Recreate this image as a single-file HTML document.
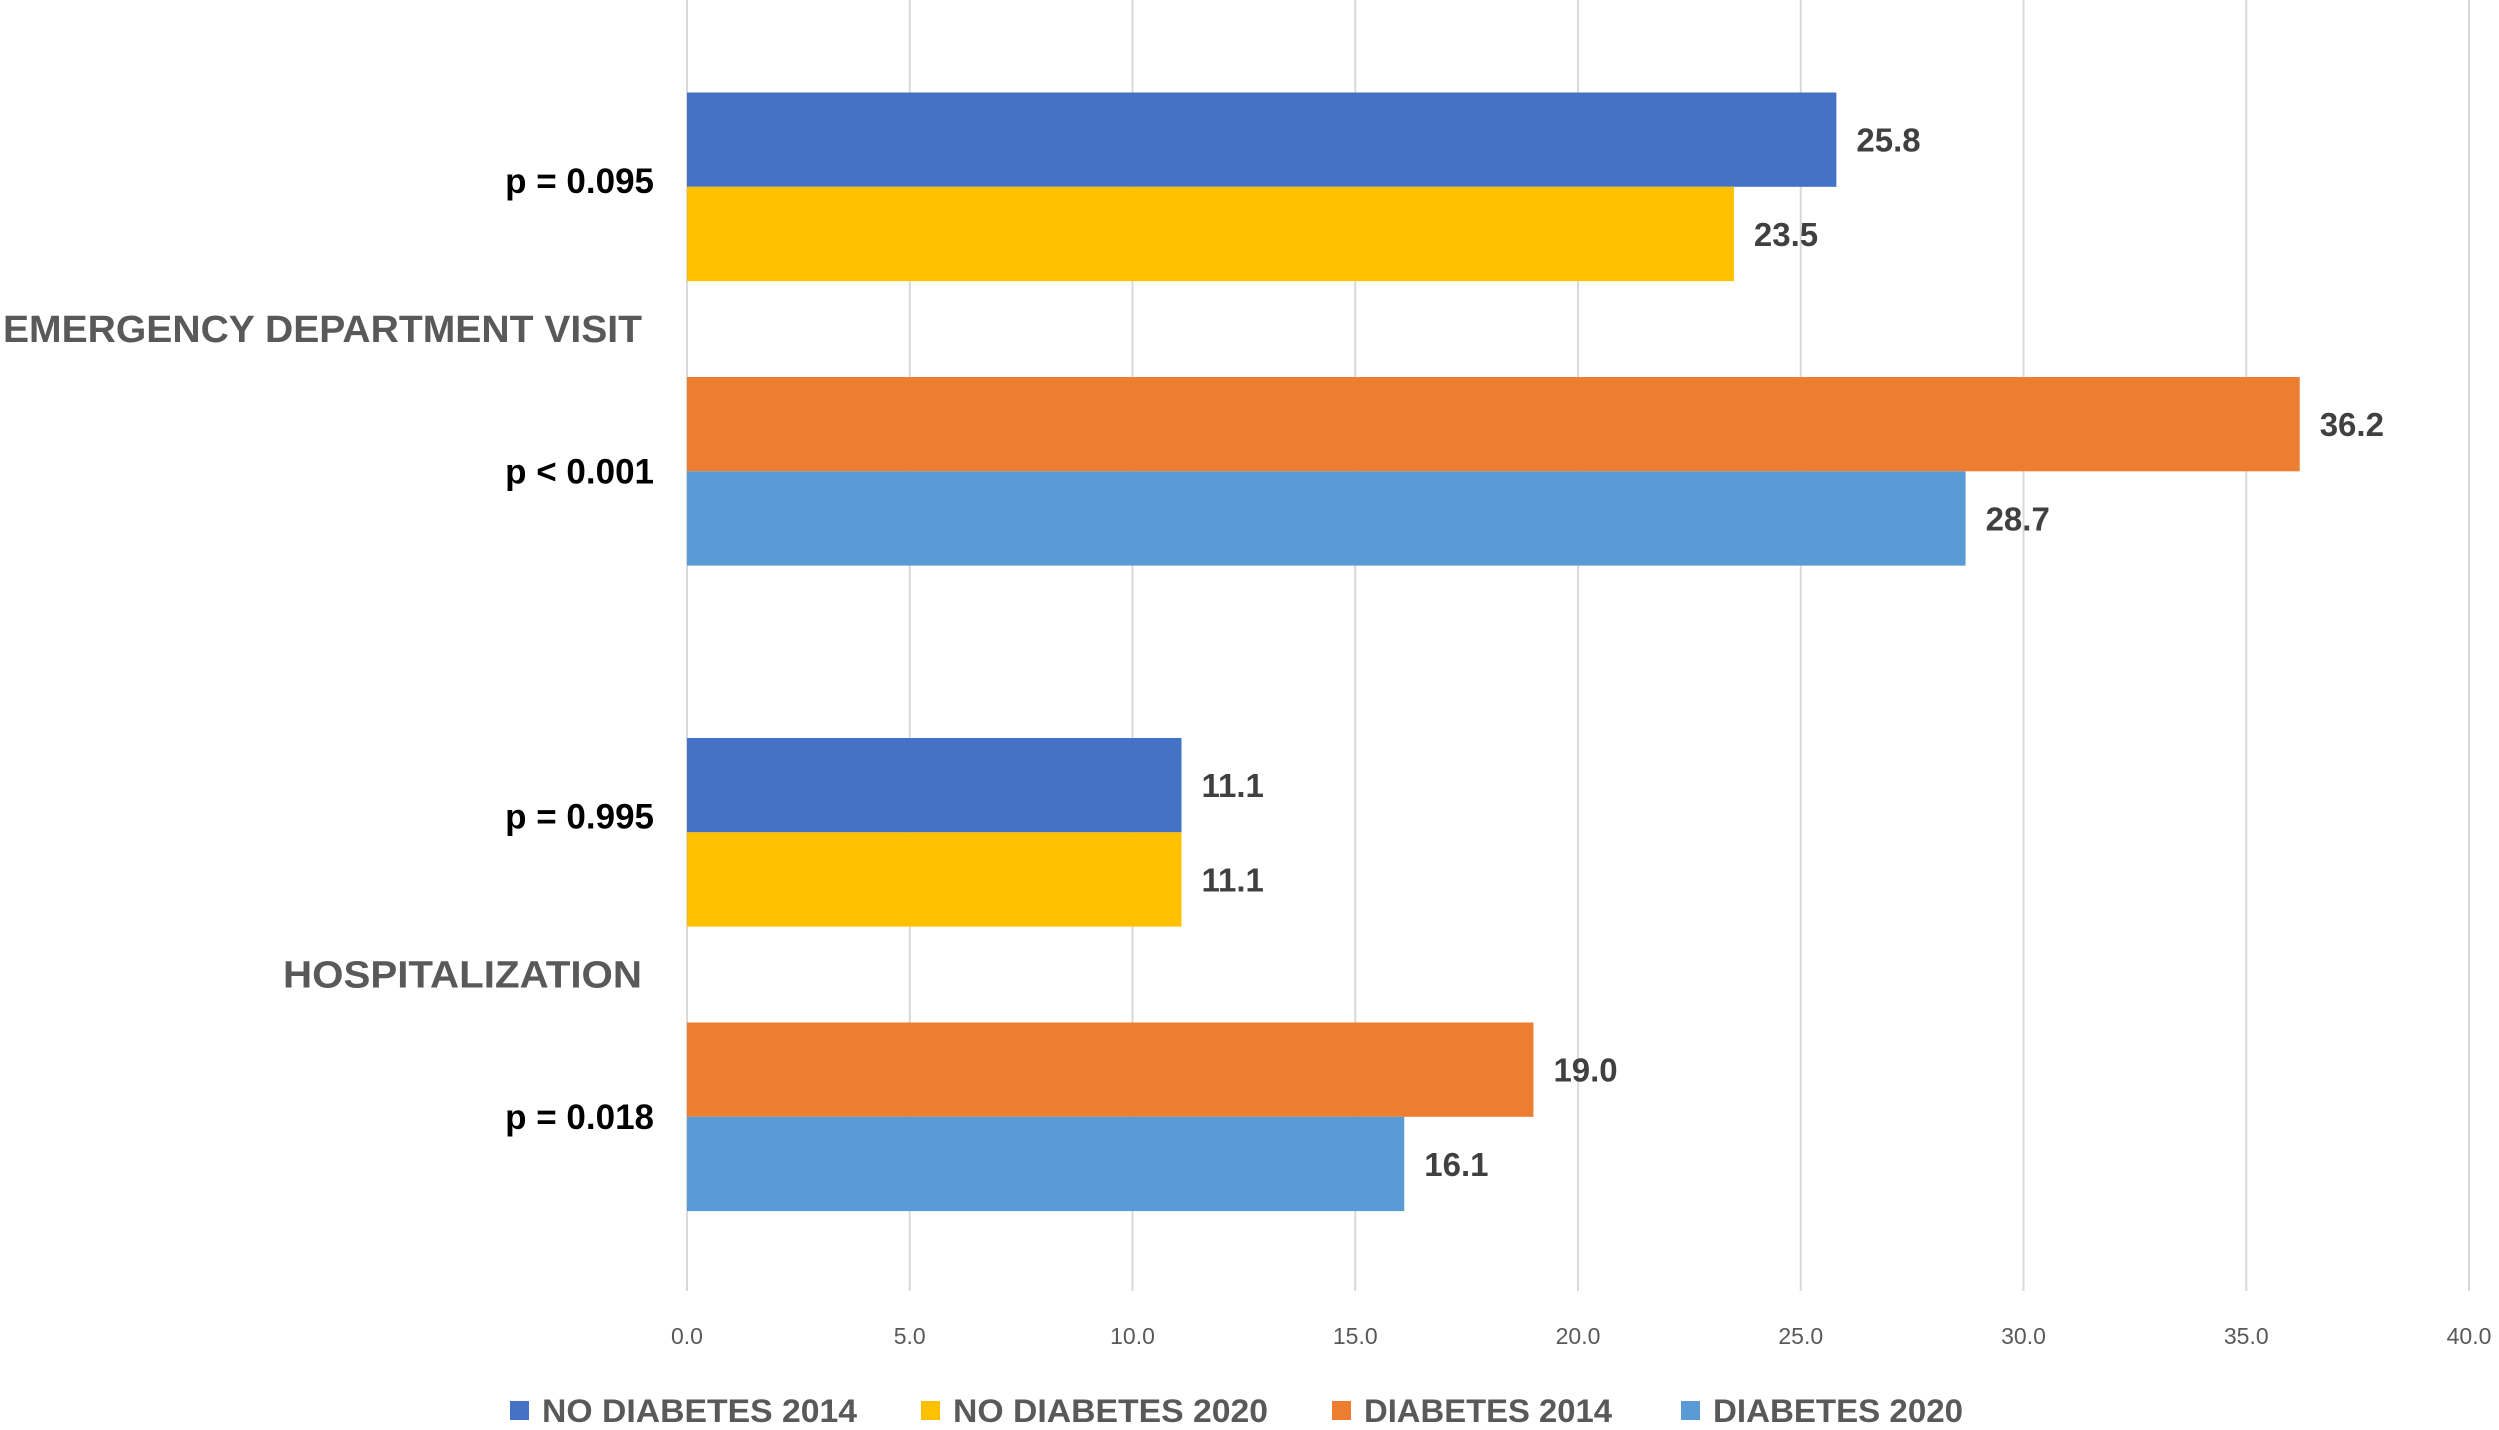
<!DOCTYPE html>
<html><head><meta charset="utf-8"><style>
html,body{margin:0;padding:0;background:#fff;}
svg{display:block;font-family:"Liberation Sans",sans-serif;}
</style></head><body>
<svg id="chart" width="2499" height="1430" viewBox="0 0 2499 1430" xmlns="http://www.w3.org/2000/svg">
<g id="grid"></g>
<g id="bars"></g>
<g id="labels"></g>
<g id="legend"></g>
</svg>
<script>
const ticks = [0,5,10,15,20,25,30,35,40];
const tickLabels = ["0.0","5.0","10.0","15.0","20.0","25.0","30.0","35.0","40.0"];
const series = ["NO DIABETES 2014","NO DIABETES 2020","DIABETES 2014","DIABETES 2020"];
const colors = ["#4472C4","#FFC000","#ED7D31","#5B9BD5"];
const categories = ["EMERGENCY DEPARTMENT VISIT","HOSPITALIZATION"];
const edValues = [25.8,23.5,36.2,28.7];
const hospValues = [11.1,11.1,19.0,16.1];
const pLabels = [["p = 0.095","p < 0.001"],["p = 0.995","p = 0.018"]];

const NS="http://www.w3.org/2000/svg";
const x0=687, unit=44.55;
const xs=v=>x0+v*unit;
const groupTop=[92.5,738];
const barH=94.3, pairGap=377-92.5;
const pOffset=[[-6,0],[-16,0]];
function mk(tag,attrs,parent,text){const e=document.createElementNS(NS,tag);for(const k in attrs)e.setAttribute(k,attrs[k]);if(text!==undefined)e.textContent=text;parent.appendChild(e);return e;}
const grid=document.getElementById('grid'),bars=document.getElementById('bars'),labels=document.getElementById('labels'),legend=document.getElementById('legend');
ticks.forEach((t,i)=>{
  const l=mk('line',{x1:xs(t),x2:xs(t),y1:0,y2:1291,stroke:'#d9d9d9','stroke-width':2},grid);
  
  
  const tx=mk('text',{x:xs(t),y:1344,'font-size':23,fill:'#595959','text-anchor':'middle'},grid,tickLabels[i]);
  
  
});
const allVals=[edValues,hospValues];
allVals.forEach((vals,g)=>{
  vals.forEach((v,s)=>{
    const pair=Math.floor(s/2), within=s%2;
    const y=groupTop[g]+pair*pairGap+within*barH;
    const r=mk('rect',{x:x0,y:y,width:xs(v)-x0,height:barH,fill:colors[s]},bars);
    
    
    const t=mk('text',{x:xs(v)+20,y:y+barH/2+12,'font-size':33,'font-weight':'bold',fill:'#404040'},labels,v.toFixed(1));
    
    
  });
  pLabels[g].forEach((p,k)=>{
    const y=groupTop[g]+k*pairGap+barH+pOffset[g][k];
    const t=mk('text',{x:654,y:y+12,'font-size':35,'font-weight':'bold',fill:'#000','text-anchor':'end'},labels,p);
    
    
  });
  const cy=groupTop[g]+pairGap-(pairGap-2*barH)/2;
  const c=mk('text',{x:642,y:cy+13,'font-size':38,'font-weight':'bold',fill:'#595959','text-anchor':'end'},labels,categories[g]);
  c.setAttribute('textLength', g===0?639:359);
  c.setAttribute('lengthAdjust','spacingAndGlyphs');
  
  
});
const legX=[510,921,1332,1681];
const legW=[315,315,248,250];
series.forEach((s,i)=>{
  const g=mk('g',{},legend);
  
  
  mk('rect',{x:legX[i],y:1401,width:19,height:19,fill:colors[i]},g);
  mk('text',{x:legX[i]+32,y:1422,'font-size':32,'font-weight':'bold',fill:'#595959',textLength:legW[i],lengthAdjust:'spacingAndGlyphs'},g,s);
});
</script>
</body></html>
